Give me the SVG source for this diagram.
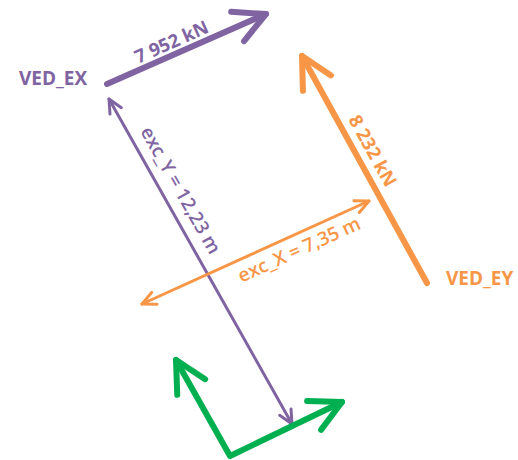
<svg xmlns="http://www.w3.org/2000/svg" width="518" height="460" viewBox="0 0 518 460">
<style>
.lbl{font-family:"Open Sans","Liberation Sans",sans-serif;font-weight:700}
.big{font-size:19px}
.force{font-size:18.5px;text-anchor:middle}
.exc{font-size:19px;font-weight:600;text-anchor:middle}
.p{fill:#8064A2}
.o{fill:#F79646}
.thick{fill:none;stroke-width:6;stroke-linecap:round;stroke-linejoin:round}
.thin{fill:none;stroke-width:3;stroke-linecap:round}
</style>
<defs>
<marker id="hp" markerUnits="userSpaceOnUse" orient="auto-start-reverse" overflow="visible" markerWidth="1" markerHeight="1">
<path d="M-31,-16 L0,0 L-31,16" fill="none" stroke="#8064A2" stroke-width="6" stroke-linecap="round" stroke-linejoin="round"/>
</marker>
<marker id="ho" markerUnits="userSpaceOnUse" orient="auto-start-reverse" overflow="visible" markerWidth="1" markerHeight="1">
<path d="M-31,-16 L0,0 L-31,16" fill="none" stroke="#F79646" stroke-width="6" stroke-linecap="round" stroke-linejoin="round"/>
</marker>
<marker id="hg" markerUnits="userSpaceOnUse" orient="auto-start-reverse" overflow="visible" markerWidth="1" markerHeight="1">
<path d="M-31,-16 L0,0 L-31,16" fill="none" stroke="#00B050" stroke-width="6" stroke-linecap="round" stroke-linejoin="round"/>
</marker>
<marker id="tp" markerUnits="userSpaceOnUse" orient="auto-start-reverse" overflow="visible" markerWidth="1" markerHeight="1">
<path d="M-13.6,-6.5 L0,0 L-13.6,6.5" fill="none" stroke="#8064A2" stroke-width="3" stroke-linecap="round" stroke-linejoin="round"/>
</marker>
<marker id="to" markerUnits="userSpaceOnUse" orient="auto-start-reverse" overflow="visible" markerWidth="1" markerHeight="1">
<path d="M-13.6,-6.5 L0,0 L-13.6,6.5" fill="none" stroke="#F79646" stroke-width="3" stroke-linecap="round" stroke-linejoin="round"/>
</marker>
</defs>
<g id="connectors">
<line id="force-ex" class="thick" x1="107" y1="84" x2="266" y2="14" stroke="#8064A2" marker-end="url(#hp)"/>
<line id="force-ey" class="thick" x1="427" y1="283" x2="302" y2="56" stroke="#F79646" marker-end="url(#ho)"/>
<line id="exc-y" class="thin" x1="109" y1="99" x2="292" y2="424" stroke="#8064A2" marker-start="url(#tp)" marker-end="url(#tp)"/>
<line id="exc-x" class="thin" x1="142" y1="304" x2="369" y2="201" stroke="#F79646" marker-start="url(#to)" marker-end="url(#to)"/>
<polyline id="axes" class="thick" points="176,360 230,456 342,402" stroke="#00B050" marker-start="url(#hg)" marker-end="url(#hg)"/>
</g>
<g id="node-ved-ex"><text class="lbl big p" x="19" y="85">VED_EX</text></g>
<g id="node-ved-ey"><text class="lbl big o" x="446" y="285">VED_EY</text></g>
<g id="label-force-ex"><text class="lbl force p" transform="translate(173,54.9) rotate(-23.9)" x="4" y="-6">7 952 kN</text></g>
<g id="label-force-ey"><text class="lbl force o" transform="translate(352.9,149) rotate(61.1)" x="11" y="-10">8 232 kN</text></g>
<g id="label-exc-y"><text class="lbl exc p" transform="translate(161,191) rotate(60.5)" x="9" y="-11">exc_Y = 12,23 m</text></g>
<g id="label-exc-x"><text class="lbl exc o" transform="translate(299,232.6) rotate(-24.4)" x="-7" y="22">exc_X = 7,35 m</text></g>
</svg>
